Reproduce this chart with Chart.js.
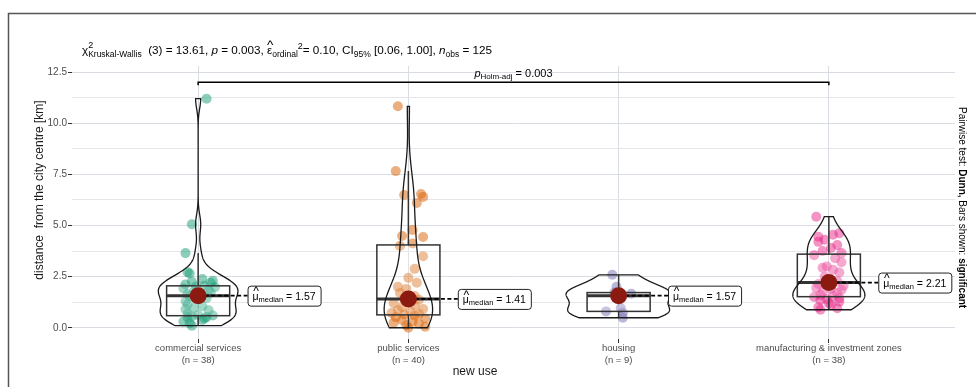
<!DOCTYPE html>
<html>
<head>
<meta charset="utf-8">
<script src="https://cdn.jsdelivr.net/npm/chart.js@4.4.1/dist/chart.umd.min.js"></script>
<style>
  body { margin: 0; background: #fff; }
  canvas { display: block; }
</style>
</head>
<body>
<canvas id="grafico" width="976" height="387"></canvas>
<script>
const categorias = ["commercial services", "public services", "housing", "manufacturing & investment zones"];
const nObs = [38, 40, 9, 38];

// distancias (km) y su desplazamiento horizontal (jitter)
const comercial = [11.2, 5.06, 3.65, 2.72, 2.65, 2.38, 2.3, 2.25, 2.2, 2.12, 2.05, 2.02, 1.98, 1.92, 1.85, 1.78, 1.72, 1.65, 1.6, 1.54,
  1.45, 1.3, 1.15, 1.05, 0.98, 0.9, 0.85, 0.7, 0.62, 0.6, 0.55, 0.52, 0.5, 0.45, 0.38, 0.3, 0.22, 0.1];
const comercialJitter = [0.04, -0.03, -0.06, -0.05, -0.04, 0.02, 0.07, -0.03, 0.06, -0.06, 0.03, -0.01, 0.08, -0.07, 0.05, -0.02, 0.06, -0.05, 0.01, -0.04,
  0.04, -0.06, -0.05, 0.02, -0.02, -0.06, 0.05, -0.05, 0, 0.07, -0.03, 0.04, -0.05, 0.03, 0.02, -0.07, -0.04, -0.03];

const publico = [10.83, 7.66, 6.54, 6.49, 6.4, 6.1, 4.78, 4.49, 4.44, 4.12, 4.0, 3.5, 2.88, 2.44, 2.2, 2.0, 1.9, 1.7, 1.55, 1.45,
  1.37, 1.2, 1.1, 1.0, 0.92, 0.85, 0.78, 0.72, 0.68, 0.65, 0.6, 0.52, 0.45, 0.38, 0.3, 0.25, 0.2, 0.12, 0.05, 0.0];
const publicoJitter = [-0.05, -0.06, 0.06, -0.02, 0.07, 0.04, 0.02, -0.03, 0.07, 0.02, -0.04, 0.07, 0.03, 0, 0.04, -0.05, -0.01, -0.04, 0.03, -0.02,
  0.05, -0.07, 0.03, -0.03, 0.07, -0.05, 0.01, -0.08, 0.05, -0.02, 0.03, -0.06, 0.08, -0.03, 0.02, -0.07, 0.05, -0.01, 0.08, 0];

const vivienda = [2.59, 2.0, 1.72, 1.66, 1.57, 0.97, 0.8, 0.73, 0.49];
const viviendaJitter = [-0.03, -0.01, -0.02, 0.06, 0, 0.01, -0.06, 0.02, 0.02];

const industria = [5.43, 4.62, 4.55, 4.45, 4.3, 4.2, 4.05, 3.9, 3.75, 3.65, 3.55, 3.4, 3.2, 3.0, 2.93, 2.84, 2.7, 2.5, 2.28,
  2.14, 2.05, 1.95, 1.9, 1.85, 1.75, 1.7, 1.6, 1.55, 1.5, 1.45, 1.4, 1.35, 1.27, 1.2, 1.12, 1.0, 0.95, 0.88];
const industriaJitter = [-0.06, 0.05, 0.02, -0.05, -0.02, -0.05, 0.04, 0.01, -0.03, 0.06, -0.07, 0.03, 0.06, -0.01, -0.03, 0.02, 0.05, -0.02, 0.04,
  -0.05, 0.07, -0.06, 0.01, 0.06, -0.03, 0.04, -0.04, 0.02, -0.07, 0.05, -0.01, -0.04, 0.05, 0, 0.01, -0.05, 0.04, -0.04];

// resumen de cajas
const medianas = [1.57, 1.41, 1.57, 2.21];
const cuartil1 = [0.59, 0.63, 0.8, 1.52];
const cuartil3 = [2.05, 4.05, 1.72, 3.6];
const bigoteInf = [0.1, 0.0, 0.49, 0.88];
const bigoteSup = [3.65, 7.66, 2.59, 5.43];

const ticksY = [0, 1.25, 2.5, 3.75, 5, 6.25, 7.5, 8.75, 10, 11.25, 12.5];
const ticksX = [1, 2, 3, 4];

const grupos = [comercial, publico, vivienda, industria];
const jitters = [comercialJitter, publicoJitter, viviendaJitter, industriaJitter];
const colores = ["rgba(27,158,119,0.5)", "rgba(217,95,2,0.5)", "rgba(117,112,179,0.5)", "rgba(231,41,138,0.5)"];
const fam = "'Liberation Sans', Arial, sans-serif";

function kde(vals) {
  const m = vals.length;
  const s = [...vals].sort((a, b) => a - b);
  const media = vals.reduce((a, b) => a + b, 0) / m;
  const sd = Math.sqrt(vals.reduce((a, b) => a + (b - media) ** 2, 0) / (m - 1));
  const q = (p) => {
    const h = (m - 1) * p, lo = Math.floor(h);
    const hi = Math.min(lo + 1, m - 1);
    return s[lo] + (h - lo) * (s[hi] - s[lo]);
  };
  const bw = 0.9 * Math.min(sd, (q(0.75) - q(0.25)) / 1.34) * Math.pow(m, -0.2);
  const res = [];
  const n = 300;
  for (let i = 0; i < n; i++) {
    const y = s[0] + (s[m - 1] - s[0]) * i / (n - 1);
    let d = 0;
    for (const v of vals) {
      const z = (y - v) / bw;
      d += Math.exp(-z * z / 2);
    }
    res.push({ y: y, d: d / (m * bw * Math.sqrt(2 * Math.PI)) });
  }
  return res;
}

function textoRico(ctx, x, y, partes, medir) {
  let px = x;
  for (const p of partes) {
    ctx.font = `${p.i ? "italic " : ""}${p.b ? "bold " : ""}${p.s}px ${fam}`;
    const w = ctx.measureText(p.t).width;
    if (!medir) {
      ctx.fillText(p.t, px, y + (p.dy || 0));
      if (p.hat) {
        ctx.save();
        ctx.font = `${p.s * 1.15}px ${fam}`;
        ctx.textAlign = "center";
        ctx.fillText("^", px + w / 2 + 0.5, y - p.s * 0.4);
        ctx.restore();
      }
    }
    if (!p.stay) px += w;
  }
  return px - x;
}

const capas = {
  id: "capas",
  beforeDraw(chart) {
    const ctx = chart.ctx;
    ctx.save();
    ctx.fillStyle = "#fff";
    ctx.fillRect(0, 0, chart.width, chart.height);
    ctx.strokeStyle = "#555";
    ctx.lineWidth = 1.5;
    ctx.strokeRect(8.5, 13.5, 1200, 1000);
    ctx.restore();
  },
  beforeDatasetDraw(chart, args) {
    if (args.index !== 0) return;
    const ctx = chart.ctx;
    const xs = chart.scales.x, ys = chart.scales.y;
    const dens = grupos.map(kde);
    const maxD = Math.max(...dens.map(g => Math.max(...g.map(p => p.d))));
    ctx.save();
    grupos.forEach((g, i) => {
      const c = i + 1;
      // caja
      const x0 = xs.getPixelForValue(c - 0.15), x1 = xs.getPixelForValue(c + 0.15);
      const yq1 = ys.getPixelForValue(cuartil1[i]), yq3 = ys.getPixelForValue(cuartil3[i]);
      const xc = xs.getPixelForValue(c);
      ctx.strokeStyle = "#333";
      ctx.lineWidth = 1.5;
      ctx.fillStyle = "rgba(255,255,255,0.2)";
      ctx.fillRect(x0, yq3, x1 - x0, yq1 - yq3);
      ctx.strokeRect(x0, yq3, x1 - x0, yq1 - yq3);
      ctx.beginPath();
      ctx.moveTo(xc, yq3); ctx.lineTo(xc, ys.getPixelForValue(bigoteSup[i]));
      ctx.moveTo(xc, yq1); ctx.lineTo(xc, ys.getPixelForValue(bigoteInf[i]));
      ctx.stroke();
      ctx.lineWidth = 3;
      ctx.beginPath();
      const ym = ys.getPixelForValue(medianas[i]);
      ctx.moveTo(x0, ym); ctx.lineTo(x1, ym);
      ctx.stroke();
      // violin
      const d = dens[i];
      ctx.strokeStyle = "#1a1a1a";
      ctx.lineWidth = 1.3;
      ctx.beginPath();
      d.forEach((p, k) => {
        const px = xs.getPixelForValue(c - p.d / maxD * 0.25);
        const py = ys.getPixelForValue(p.y);
        if (k === 0) ctx.moveTo(px, py); else ctx.lineTo(px, py);
      });
      for (let k = d.length - 1; k >= 0; k--) {
        ctx.lineTo(xs.getPixelForValue(c + d[k].d / maxD * 0.25), ys.getPixelForValue(d[k].y));
      }
      ctx.closePath();
      ctx.stroke();
      // linea discontinua hacia la etiqueta
      ctx.setLineDash([4, 2.5]);
      ctx.lineWidth = 1.7;
      ctx.strokeStyle = "#000";
      ctx.beginPath();
      ctx.moveTo(xc, ym);
      ctx.lineTo(xs.getPixelForValue(c + 0.235), ym);
      ctx.stroke();
      ctx.setLineDash([]);
    });
    ctx.restore();
  },
  afterDatasetsDraw(chart) {
    const ctx = chart.ctx;
    const xs = chart.scales.x, ys = chart.scales.y;
    ctx.save();
    ctx.fillStyle = "#000";
    ctx.textBaseline = "alphabetic";

    // etiquetas de mediana
    medianas.forEach((m, i) => {
      const x = xs.getPixelForValue(i + 1.235);
      const y = ys.getPixelForValue(m);
      const partes = [
        { t: "μ", s: 10.5, hat: true },
        { t: "median", s: 7.5, dy: 2 },
        { t: ` = ${m.toFixed(2)}`, s: 10.5 }
      ];
      const w = textoRico(ctx, 0, 0, partes, true) + 10;
      ctx.beginPath();
      ctx.roundRect(x + 0.5, y - 10 + 0.5, w, 20, 3);
      ctx.fillStyle = "#fff";
      ctx.fill();
      ctx.strokeStyle = "#222";
      ctx.lineWidth = 1;
      ctx.stroke();
      ctx.fillStyle = "#000";
      textoRico(ctx, x + 5, y + 4, partes);
    });

    // corchete de comparacion
    const yb = ys.getPixelForValue(12.0);
    const xa = xs.getPixelForValue(1), xb = xs.getPixelForValue(4);
    ctx.strokeStyle = "#000";
    ctx.lineWidth = 1.5;
    ctx.beginPath();
    ctx.moveTo(xa, yb + 3); ctx.lineTo(xa, yb); ctx.lineTo(xb, yb); ctx.lineTo(xb, yb + 3);
    ctx.stroke();
    const partesP = [
      { t: "p", s: 11, i: true },
      { t: "Holm-adj", s: 8, dy: 2 },
      { t: " = 0.003", s: 11 }
    ];
    const wp = textoRico(ctx, 0, 0, partesP, true);
    textoRico(ctx, (xa + xb) / 2 - wp / 2, yb - 5, partesP);

    // subtitulo con la prueba
    textoRico(ctx, 82, 54, [
      { t: "χ", s: 11.7 },
      { t: "2", s: 9, dy: -6, stay: true },
      { t: "Kruskal-Wallis", s: 8.5, dy: 3 },
      { t: "  (3) = 13.61, ", s: 11.7 },
      { t: "p", s: 11.7, i: true },
      { t: " = 0.003, ", s: 11.7 },
      { t: "ε", s: 11.7, hat: true },
      { t: "ordinal", s: 8.5, dy: 3 },
      { t: "2", s: 9, dy: -5 },
      { t: "= 0.10, CI", s: 11.7 },
      { t: "95%", s: 8.5, dy: 3 },
      { t: " [0.06, 1.00], ", s: 11.7 },
      { t: "n", s: 11.7, i: true },
      { t: "obs", s: 8.5, dy: 3 },
      { t: " = 125", s: 11.7 }
    ]);

    // texto lateral
    ctx.save();
    ctx.translate(962, 107);
    ctx.rotate(Math.PI / 2);
    ctx.textBaseline = "middle";
    textoRico(ctx, 0, 0, [
      { t: "Pairwise test: ", s: 10 },
      { t: "Dunn,", s: 10, b: true },
      { t: " Bars shown: ", s: 10 },
      { t: "significant", s: 10, b: true }
    ]);
    ctx.restore();

    // titulos de ejes
    ctx.fillStyle = "#1a1a1a";
    ctx.font = `12px ${fam}`;
    ctx.textAlign = "center";
    ctx.textBaseline = "middle";
    ctx.fillText("new use", 475, 372);
    ctx.save();
    ctx.translate(40, 190);
    ctx.rotate(-Math.PI / 2);
    ctx.fillText("distance  from the city centre [km]", 0, 0);
    ctx.restore();
    ctx.restore();
  }
};

const datasets = [{
  label: "mediana",
  data: medianas.map((m, i) => ({ x: i + 1, y: m })),
  backgroundColor: "#8b1a10",
  borderWidth: 0,
  pointRadius: 8.5,
  order: 0
}];
grupos.forEach((g, i) => {
  datasets.push({
    label: categorias[i],
    data: g.map((v, k) => ({ x: i + 1 + jitters[i][k], y: v })),
    backgroundColor: colores[i],
    borderWidth: 0,
    pointRadius: 5,
    order: 1
  });
});

Chart.defaults.font.family = fam;

new Chart(document.querySelector("#grafico").getContext("2d"), {
  type: "scatter",
  data: { datasets: datasets },
  options: {
    responsive: false,
    animation: false,
    devicePixelRatio: 1,
    layout: { padding: { top: 66, right: 21, left: 0, bottom: 0 } },
    plugins: { legend: { display: false }, tooltip: { enabled: false } },
    scales: {
      x: {
        type: "linear",
        min: 0.4,
        max: 4.6,
        afterBuildTicks: (s) => { s.ticks = ticksX.map(v => ({ value: v })); },
        afterFit: (s) => { s.height = 48; },
        ticks: {
          callback: (v) => [categorias[v - 1], `(n = ${nObs[v - 1]})`],
          font: { size: 9.5 },
          color: "#4d4d4d",
          padding: 0,
          maxRotation: 0,
          autoSkip: false
        },
        grid: { color: "#d9dce2", tickColor: "#333", tickLength: 4 },
        border: { display: false }
      },
      y: {
        min: -0.55,
        max: 12.8,
        afterBuildTicks: (s) => { s.ticks = ticksY.map(v => ({ value: v })); },
        afterFit: (s) => { s.width = 72; },
        ticks: {
          callback: (v) => (v % 2.5 === 0 ? v.toFixed(1) : ""),
          font: { size: 10 },
          color: "#4d4d4d",
          padding: 1
        },
        grid: {
          color: (c) => (c.tick && c.tick.value % 2.5 === 0 ? "#d9dce2" : "#e4e6ea"),
          tickColor: (c) => (c.tick && c.tick.value % 2.5 === 0 ? "#333" : "rgba(0,0,0,0)"),
          tickLength: 4
        },
        border: { display: false }
      }
    }
  },
  plugins: [capas]
});
</script>
</body>
</html>
